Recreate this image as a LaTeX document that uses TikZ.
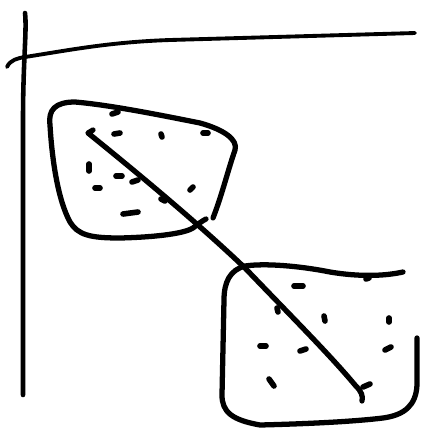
\documentclass[tikz,border=0pt]{standalone}
\usepackage{tikz}

\begin{document}
\begin{tikzpicture} %Boceto
  [
    x=0.02cm, y=-0.02cm,
    % Estilos del trazo a mano
    eje/.style={line width=2.2pt, line cap=round},
    borde/.style={line width=3pt, line cap=round, line join=round},
    punto/.style={line width=3.2pt, line cap=round}
  ]
  \useasboundingbox (0,0) rectangle (425,444);
  % Ejes
  \draw[eje, line width=2.6pt] (25,13) .. controls (27,30) and (23,60) .. (23,120) -- (23,395);
  \draw[eje] (7,67) .. controls (10,60) and (18,58) .. (25,57)
    .. controls (70,50) and (110,42) .. (170,40) -- (415,33);
  % Region 1
  \draw[borde] (213,218) .. controls (222,195) and (228,170) .. (235,150)
    .. controls (238,140) and (225,130) .. (200,123)
    .. controls (160,115) and (110,105) .. (75,102)
    .. controls (55,102) and (48,110) .. (50,125)
    .. controls (52,160) and (58,200) .. (70,222)
    .. controls (78,235) and (90,238) .. (120,238)
    .. controls (160,237) and (185,233) .. (193,228)
    .. controls (198,224) and (202,221) .. (206,219);
  % Region 2
  \draw[borde] (403,272) .. controls (385,276) and (360,277) .. (330,272)
    .. controls (300,266) and (265,263) .. (245,266)
    .. controls (230,270) and (224,282) .. (224,300)
    -- (222,395)
    .. controls (222,412) and (232,420) .. (260,425)
    .. controls (300,424) and (350,422) .. (383,418)
    .. controls (405,415) and (416,405) .. (417,385)
    -- (417,338);
  % Linea diagonal
  \draw[borde] (93,130) -- (88,133)
    .. controls (140,175) and (200,225) .. (245,268)
    .. controls (290,315) and (330,355) .. (355,385)
    .. controls (362,392) and (363,396) .. (362,401);
  % Puntos de la region 1
  \draw[punto] (112,114) -- (118,112);
  \draw[punto] (114,134) -- (120,133);
  \draw[punto] (161,134) -- (162,137);
  \draw[punto] (203,133) -- (208,133);
  \draw[punto] (89,164) -- (89,171);
  \draw[punto] (116,176) -- (122,176);
  \draw[punto] (132,182) -- (138,180);
  \draw[punto] (95,188) -- (100,188);
  \draw[punto] (190,190) -- (193,187);
  \draw[punto] (161,199) -- (165,201);
  \draw[punto] (123,214) -- (138,212);
  % Puntos de la region 2
  \draw[punto] (294,286) -- (303,286);
  \draw[punto] (366,279) -- (369,278);
  \draw[punto] (277,308) -- (278,312);
  \draw[punto] (324,316) -- (325,321);
  \draw[punto] (389,318) -- (389,322);
  \draw[punto] (260,346) -- (266,346);
  \draw[punto] (300,351) -- (306,349);
  \draw[punto] (385,350) -- (391,347);
  \draw[punto] (269,379) -- (274,386);
  \draw[punto] (363,387) -- (370,384);
\end{tikzpicture}
\end{document}
